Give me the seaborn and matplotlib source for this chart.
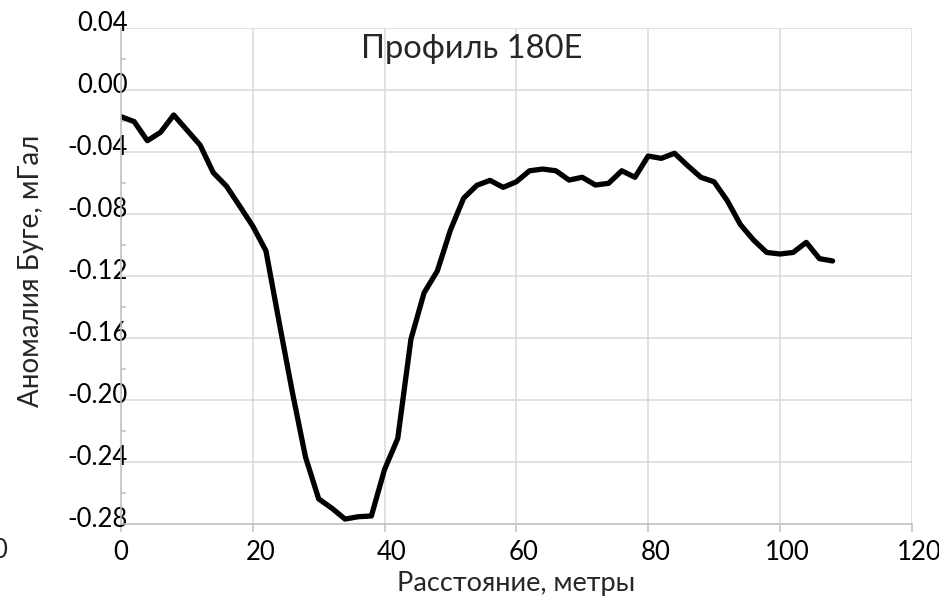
import numpy as np
import pandas as pd
import matplotlib
matplotlib.use("Agg")
import matplotlib.pyplot as plt
import matplotlib.transforms as mtransforms
import seaborn as sns

# distance along profile, metres
distance = [0, 2, 4, 6, 8, 10, 12, 14, 16, 18, 20, 22, 24, 26, 28, 30, 32, 34, 36, 38,
            40, 42, 44, 46, 48, 50, 52, 54, 56, 58, 60, 62, 64, 66, 68, 70, 72, 74, 76, 78,
            80, 82, 84, 86, 88, 90, 92, 94, 96, 98, 100, 102, 104, 106, 108]
# Bouguer anomaly, mGal
anomaly = [-0.0174, -0.0206, -0.0329, -0.0275, -0.0163, -0.0260, -0.0357, -0.0535, -0.0622, -0.0750,
           -0.0880, -0.1040, -0.1500, -0.1950, -0.2370, -0.2640, -0.2700, -0.2770, -0.2755, -0.2750,
           -0.2450, -0.2250, -0.1610, -0.1310, -0.1170, -0.0905, -0.0700, -0.0617, -0.0585, -0.0630,
           -0.0594, -0.0523, -0.0512, -0.0523, -0.0583, -0.0565, -0.0615, -0.0604, -0.0523, -0.0565,
           -0.0428, -0.0443, -0.0410, -0.0490, -0.0565, -0.0594, -0.0715, -0.0870, -0.0970, -0.1050,
           -0.1060, -0.1050, -0.0985, -0.1090, -0.1105]

x_ticks = [0, 20, 40, 60, 80, 100, 120]
y_ticks = [-0.28, -0.24, -0.20, -0.16, -0.12, -0.08, -0.04, 0.00, 0.04]
y_minor = [-0.26, -0.22, -0.18, -0.14, -0.10, -0.06, -0.02, 0.02]

df = pd.DataFrame({"dist": distance, "anom": anomaly})

sns.set_style("white")
plt.rcParams['font.family'] = ['Lato', 'Noto Sans', 'DejaVu Sans']

fig = plt.figure(figsize=(9.39, 6.03), dpi=100)
ax = fig.add_axes([121 / 939, 1 - 523.7 / 603, 790.7 / 939, 496 / 603])

sns.lineplot(data=df, x="dist", y="anom", color="black", linewidth=3.8, ax=ax)
ax.lines[0].set_solid_joinstyle("round")
ax.lines[0].set_solid_capstyle("round")

ax.set_xlim(0, 120)
ax.set_ylim(-0.28, 0.04)
ax.set_xticks(x_ticks)
ax.set_yticks(y_ticks)
ax.set_yticks(y_minor, minor=True)
ax.set_xticklabels([str(t) for t in x_ticks])
ax.set_yticklabels(["%.2f" % t for t in y_ticks])

ax.grid(True, color="#d9d9d9", linewidth=1.1)
ax.set_axisbelow(True)
for s in ["top", "right"]:
    ax.spines[s].set_visible(False)
for s in ["left", "bottom"]:
    ax.spines[s].set_color("#bfbfbf")
    ax.spines[s].set_linewidth(1.1)

ax.tick_params(axis="x", which="major", direction="out", length=5.8, width=1.1,
               color="#bfbfbf", pad=6.0, labelsize=18.5, labelcolor="black", bottom=True)
ax.tick_params(axis="y", which="major", length=0, pad=0, labelsize=18.5, labelcolor="black", left=True)
ax.tick_params(axis="y", which="minor", direction="in", length=3.6, width=1.1,
               color="#bfbfbf", left=True)

# Excel-style label placement offsets
for lbl in ax.get_xticklabels():
    if lbl.get_text() != "0":
        lbl.set_transform(lbl.get_transform() + mtransforms.ScaledTranslation(5.4 / 72, 0, fig.dpi_scale_trans))
for lbl in ax.get_yticklabels():
    lbl.set_transform(lbl.get_transform() + mtransforms.ScaledTranslation(5.0 / 72, 4.5 / 72, fig.dpi_scale_trans))

ax.set_xlabel("Расстояние, метры", fontsize=19.5, labelpad=4)
ax.set_ylabel("Аномалия Буге, мГал", fontsize=20)
ax.yaxis.set_label_coords(-0.098, 0.51)

ax.text(0.444, 0.958, "Профиль 180E", transform=ax.transAxes, fontsize=23.5,
        ha="center", va="center")
fig.text(0.0, 1 - 550 / 603, "0", fontsize=18.5, ha="center", va="center")

fig.savefig("out.png", dpi=100)
